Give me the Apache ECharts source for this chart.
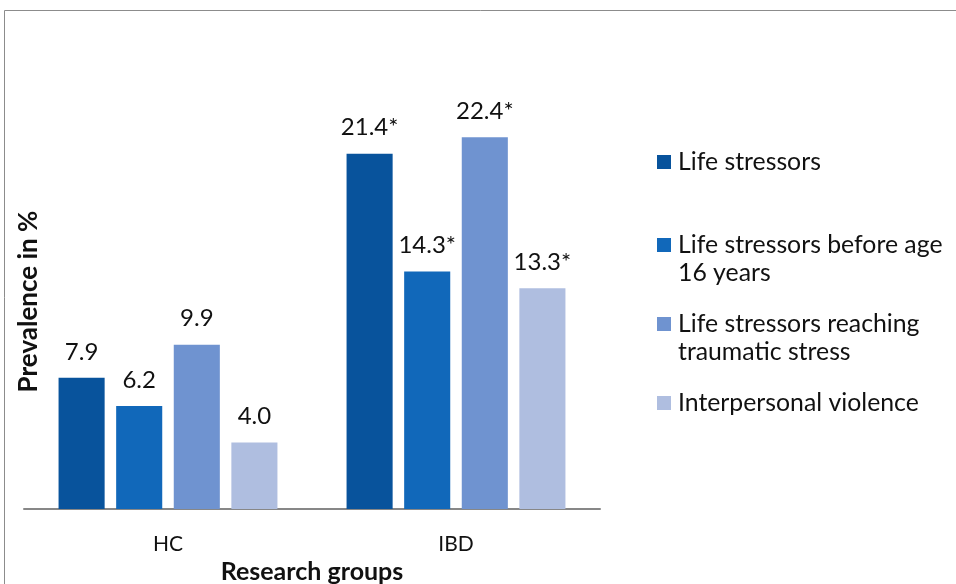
<!DOCTYPE html>
<html>
<head>
<meta charset="utf-8">
<script src="https://cdn.jsdelivr.net/npm/echarts@6/dist/echarts.min.js"></script>
<style>
html,body{margin:0;padding:0;background:#fff;}
#chart{width:956px;height:584px;}
</style>
</head>
<body>
<div id="chart"></div>
<script>
var groups = ['HC', 'IBD'];
var seriesNames = ['Life stressors', 'Life stressors before age\n16 years', 'Life stressors reaching\ntraumatic stress', 'Interpersonal violence'];
var lifeStressors = [7.9, 21.4];
var beforeAge16 = [6.2, 14.3];
var traumatic = [9.9, 22.4];
var violence = [4.0, 13.3];
var starred = [false, true]; // IBD values marked significant

var colors = ['#08539C', '#1168BA', '#6F93D0', '#AFBEE0'];
var values = [lifeStressors, beforeAge16, traumatic, violence];
var legendTops = [148, 203, 282, 389];
var FONT = 'Lato';

function makeSeries(i){
  return {
    name: seriesNames[i],
    type: 'bar',
    data: values[i],
    barGap: '25%',
    barCategoryGap: '24%',
    itemStyle: { color: colors[i] },
    label: {
      show: true,
      position: 'top',
      distance: 14,
      fontFamily: FONT,
      fontSize: 24,
      color: '#111',
      formatter: function(p){ return p.value.toFixed(1) + (starred[p.dataIndex] ? '*' : ''); }
    }
  };
}

var legends = [];
for (var i = 0; i < seriesNames.length; i++) {
  var twoLine = seriesNames[i].indexOf('\n') >= 0;
  legends.push({
    data: [seriesNames[i]],
    left: 657,
    top: legendTops[i],
    padding: 0,
    itemWidth: 14,
    itemHeight: 14,
    icon: 'rect',
    selectedMode: false,
    // push the text so the first line sits level with the square
    formatter: twoLine ? function(n){ return ' \n' + n; } : '{name}',
    textStyle: {
      fontFamily: FONT,
      fontSize: 24.8,
      color: '#111',
      lineHeight: 28,
      padding: [0, 0, 0, 2]
    }
  });
}

var chart = echarts.init(document.getElementById('chart'));
chart.setOption({
  animation: false,
  backgroundColor: '#fff',
  grid: { left: 24, right: 356, top: 94, bottom: 75, outerBoundsMode: 'none', containLabel: false },
  legend: legends,
  xAxis: {
    type: 'category',
    data: groups,
    axisLine: { lineStyle: { color: '#878787', width: 2 } },
    axisTick: { show: false },
    axisLabel: { fontFamily: FONT, fontSize: 21, color: '#111', margin: 25 },
    name: 'Research groups',
    nameLocation: 'middle',
    nameGap: 43,
    nameTextStyle: { fontFamily: FONT, fontSize: 25, fontWeight: 'bold', color: '#111' }
  },
  yAxis: {
    type: 'value',
    min: 0,
    max: 25,
    axisLine: { show: false },
    axisTick: { show: false },
    axisLabel: { show: false },
    splitLine: { show: false },
    name: 'Prevalence in %',
    nameLocation: 'middle',
    nameRotate: 90,
    nameGap: -18,
    nameTextStyle: { fontFamily: FONT, fontSize: 26, fontWeight: 'bold', color: '#111' }
  },
  series: [makeSeries(0), makeSeries(1), makeSeries(2), makeSeries(3)],
  graphic: [{
    type: 'rect',
    shape: { x: 4.5, y: 10.5, width: 1200, height: 1200 },
    style: { fill: null, stroke: '#8c8c8c', lineWidth: 1 },
    silent: true
  }]
});
</script>
</body>
</html>
